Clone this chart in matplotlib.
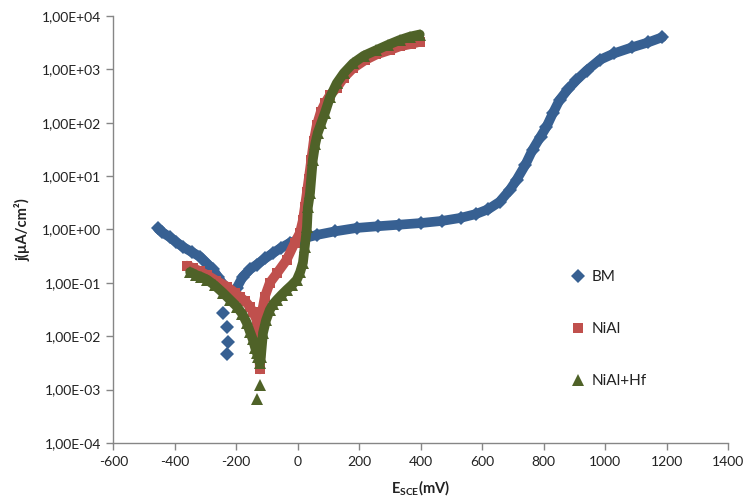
import numpy as np
import matplotlib
matplotlib.use("Agg")
import matplotlib.pyplot as plt
from matplotlib.ticker import FuncFormatter, NullLocator
from matplotlib.lines import Line2D

plt.rcParams['font.family'] = ['Lato', 'DejaVu Sans']
plt.rcParams['mathtext.fontset'] = 'custom'
plt.rcParams['mathtext.rm'] = 'Lato'
plt.rcParams['mathtext.bf'] = 'Lato:bold'
plt.rcParams['mathtext.it'] = 'Lato:italic'
plt.rcParams['axes.unicode_minus'] = False

# ---------------- data (E in mV vs SCE, j in uA/cm2) ----------------
series_labels = ["BM", "NiAl", "NiAl+Hf"]

bm_cath_E = [-455, -440, -416, -395, -373, -345, -318, -295, -276, -260, -247]
bm_cath_j = [1.05, 0.88, 0.72, 0.58, 0.47, 0.38, 0.31, 0.23, 0.18, 0.13, 0.10]
bm_dip_E = [-243, -230, -227, -230]
bm_dip_j = [0.027, 0.015, 0.0077, 0.0046]
bm_anod_E = [-215, -198, -179, -155, -133, -105, -81, -55, -26, 10, 62, 120, 192,
             260, 330, 400, 470, 530, 580, 620, 657, 690, 712, 740, 764, 790, 809,
             830, 852, 880, 907, 940, 982, 1030, 1089, 1140, 1186]
bm_anod_j = [0.05, 0.081, 0.13, 0.18, 0.22, 0.29, 0.36, 0.45, 0.56, 0.66, 0.79, 0.92, 1.07,
             1.15, 1.23, 1.32, 1.45, 1.65, 1.95, 2.4, 3.3, 5.5, 8.5, 16, 31, 55, 83,
             150, 267, 430, 630, 950, 1500, 2000, 2600, 3200, 4000]

nial_E = [-360, -340, -318, -295, -265, -230, -205, -188, -170, -156, -145, -133,
          -128, -125, -123, -120, -117, -107, -91, -68, -36, -10, 7, 17, 23,
          30, 36, 44, 52, 62, 75, 88, 105, 127, 150, 180, 220, 256, 300, 332, 370, 398]
nial_j = [0.21, 0.19, 0.165, 0.14, 0.11, 0.085, 0.066, 0.055, 0.045, 0.036, 0.028, 0.020,
          0.010, 0.005, 0.0024, 0.008, 0.027, 0.055, 0.10, 0.15, 0.27, 0.56, 0.86, 1.5, 2.6,
          5.0, 9.0, 20, 45, 90, 160, 230, 330, 450, 700, 1050, 1500, 1900, 2300, 2700, 3000, 3300]

hf_E = [-350, -330, -315, -295, -270, -243, -220, -198, -180, -166, -155, -146, -138,
        -133, -128, -123, -120, -113, -103, -91, -80, -68, -52, -36, -20, -3, 8, 17, 23,
        30, 33, 40, 49, 57, 65, 77, 88, 105, 127, 150, 180, 215, 256, 295, 332, 365, 397]
hf_j = [0.16, 0.14, 0.13, 0.115, 0.09, 0.065, 0.048, 0.036, 0.026, 0.018, 0.012, 0.0087, 0.006,
        0.0049, 0.004, 0.0031, 0.004, 0.0115, 0.02, 0.031, 0.04, 0.048, 0.06, 0.074, 0.09, 0.114,
        0.16, 0.24, 0.48, 1.1, 2.6, 4.8, 20, 40, 64, 100, 150, 300, 550, 850, 1300, 1800, 2300,
        2900, 3550, 4100, 4500]
hf_dip_E = [-123, -133]
hf_dip_j = [0.0012, 0.00066]

x_ticks = list(range(-600, 1401, 200))
y_ticks = [1e-4, 1e-3, 1e-2, 1e-1, 1e0, 1e1, 1e2, 1e3, 1e4]

# ---------------- styling ----------------
c_bm = '#376092'
c_nial = '#C0504D'
c_hf = '#4F6228'
axis_gray = '#868686'
text_col = '#222222'

fig = plt.figure(figsize=(7.46, 4.98), dpi=100)
ax = fig.add_axes([113.3 / 746, 55 / 498, 614.7 / 746, 427 / 498])

band = 7.0
# BM
ax.plot(bm_cath_E, bm_cath_j, color=c_bm, lw=band, solid_capstyle='round', zorder=2)
ax.plot(bm_anod_E, bm_anod_j, color=c_bm, lw=band, solid_capstyle='round', zorder=2)
ax.plot(bm_cath_E + bm_dip_E + bm_anod_E, bm_cath_j + bm_dip_j + bm_anod_j,
        ls='none', marker='D', ms=7.5, color=c_bm, mec=c_bm, mew=0, zorder=2)
# NiAl
ax.plot(nial_E, nial_j, color=c_nial, lw=band, solid_capstyle='round', zorder=3)
ax.plot(nial_E, nial_j, ls='none', marker='s', ms=7.5, color=c_nial, mew=0, zorder=3)
# NiAl+Hf
ax.plot(hf_E, hf_j, color=c_hf, lw=band, solid_capstyle='round', zorder=4)
ax.plot(hf_E + hf_dip_E, hf_j + hf_dip_j, ls='none', marker='^', ms=8.5, color=c_hf,
        mew=0, zorder=4)

ax.set_yscale('log')
ax.set_xlim(-600, 1400)
ax.set_ylim(1e-4, 1e4)
ax.set_xticks(x_ticks)
ax.set_yticks(y_ticks)
ax.yaxis.set_minor_locator(NullLocator())
ax.yaxis.set_major_formatter(FuncFormatter(lambda v, p: f"{v:.2E}".replace('.', ',')))

for s in ['top', 'right']:
    ax.spines[s].set_visible(False)
for s in ['left', 'bottom']:
    ax.spines[s].set_color(axis_gray)
    ax.spines[s].set_linewidth(1.0)
ax.tick_params(axis='both', which='major', length=5, width=1.0, color=axis_gray,
               labelsize=10, labelcolor=text_col, pad=4)

ax.set_xlabel(r'E$_{\mathbf{SCE}}$(mV)', fontsize=10.5, fontweight='bold', color=text_col,
              labelpad=8)
ax.set_ylabel('j(µA/cm²)', fontsize=10.5, fontweight='bold', color=text_col, labelpad=8)

handles = [Line2D([], [], ls='none', marker='D', ms=7.5, color=c_bm, mew=0),
           Line2D([], [], ls='none', marker='s', ms=7.5, color=c_nial, mew=0),
           Line2D([], [], ls='none', marker='^', ms=8.5, color=c_hf, mew=0)]
ax.legend(handles, series_labels, loc='upper left', bbox_to_anchor=(0.743, 0.405),
          frameon=False, fontsize=11, labelspacing=2.5, handlelength=1.0,
          handletextpad=0.4, borderpad=0, borderaxespad=0, labelcolor=text_col)

fig.savefig('out.png', dpi=100)
